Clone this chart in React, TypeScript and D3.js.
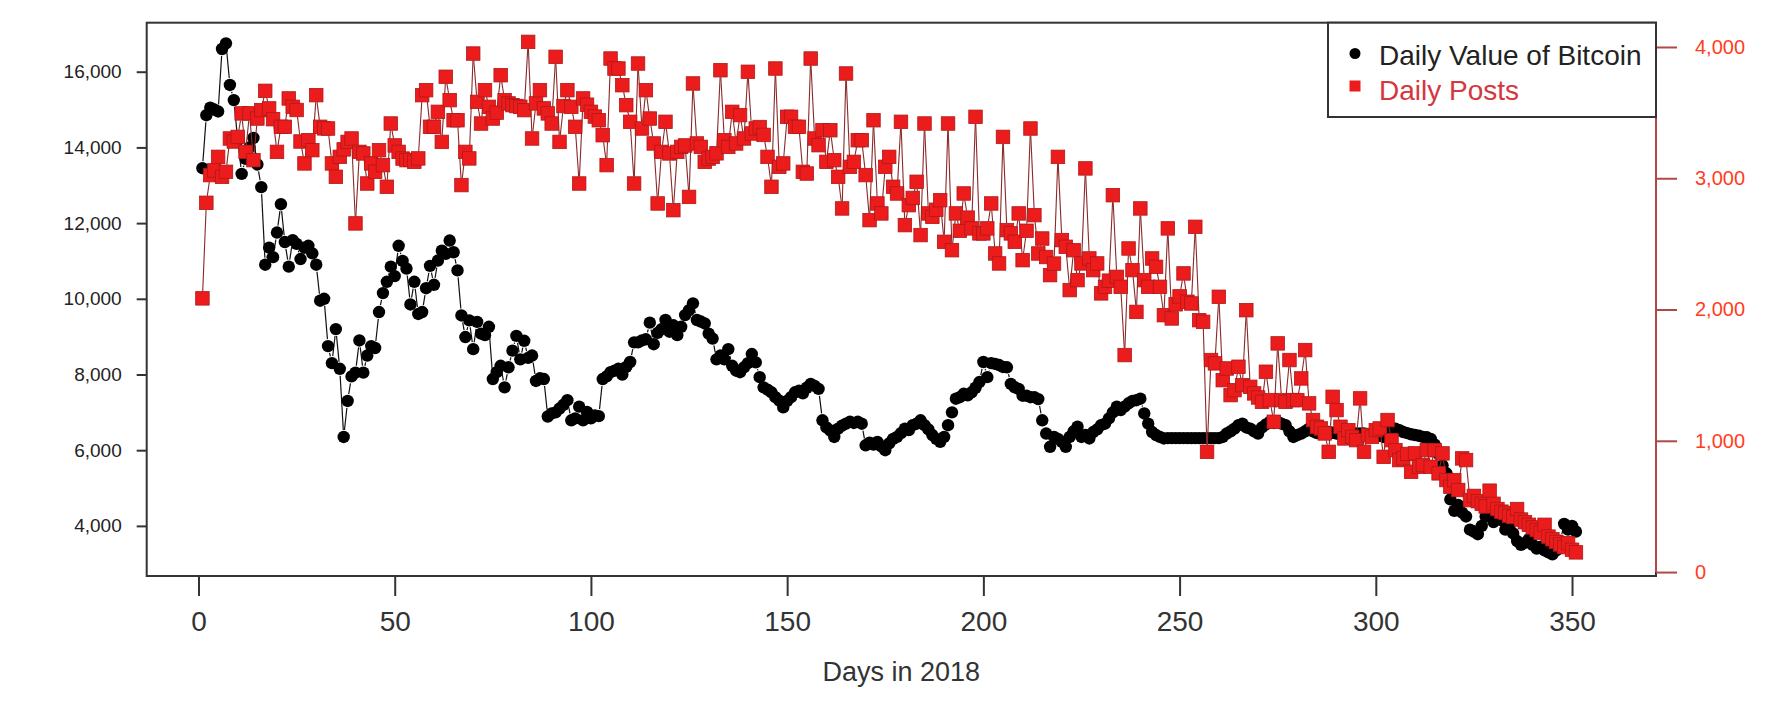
import { useEffect, useRef } from 'react';
import * as d3 from 'd3';

// Daily value of Bitcoin (USD), day 1..351
const btcValues = [
  13450, 14850, 15050, 15000, 14950, 16600, 16750, 15650, 15250, 14200,
  13300, 13700, 14000, 14250, 13550, 12950, 10900, 11350, 11100, 11750,
  12500, 11500, 10850, 11550, 11450, 11050, 11350, 11400, 11200, 10900,
  9950, 10000, 8750, 8300, 9200, 8150, 6350, 7300, 7950, 8050,
  8900, 8050, 8500, 8750, 8700, 9650, 10150, 10450, 10850, 10600,
  11400, 11000, 10800, 9850, 10450, 9600, 9650, 10280, 10870, 10370,
  11010, 11270, 11190, 11540, 11230, 10750, 9560, 8990, 9430, 8670,
  9390, 9080, 9040, 9260, 7880, 8060, 8230, 7660, 8190, 8630,
  9020, 8400, 8890, 8440, 8500, 7830, 7900, 7880, 6890, 6970,
  7000, 7100, 7200, 7320, 6790, 6840, 7150, 6790, 7010, 6840,
  6920, 6900, 7880, 7950, 8060, 8100, 8150, 8000, 8200, 8330,
  8850, 8850, 8900, 8930, 9370, 8800, 9100, 9200, 9440, 9130,
  9300, 9040, 9260, 9570, 9700, 9880, 9440, 9400, 9350, 9080,
  8950, 8400, 8500, 8400, 8670, 8230, 8100, 8060, 8190, 8300,
  8540, 8320, 7930, 7660, 7600, 7530, 7400, 7310, 7130, 7300,
  7400, 7530, 7570, 7500, 7650, 7750, 7700, 7620, 6790, 6600,
  6520, 6350, 6570, 6650, 6700, 6750, 6720, 6750, 6700, 6130,
  6200, 6150, 6220, 6100, 6000, 6180, 6300, 6350, 6450, 6570,
  6530, 6660, 6700, 6790, 6660, 6550, 6400, 6300, 6220, 6350,
  6660, 7000, 7360, 7400, 7490, 7450, 7530, 7650, 7800, 8330,
  7930, 8300, 8280, 8250, 8200, 8190, 7750, 7660, 7620, 7440,
  7440, 7400, 7400, 7350, 6790, 6440, 6090, 6350, 6300, 6220,
  6090, 6350, 6500, 6620, 6350, 6400, 6310, 6480, 6550, 6660,
  6700, 6840, 7000, 7150, 7060, 7150, 7240, 7300, 7320, 7360,
  6970, 6700, 6480, 6400, 6350, 6310, 6320, 6320, 6320, 6320,
  6320, 6320, 6320, 6320, 6320, 6320, 6320, 6320, 6320, 6320,
  6350, 6440, 6500, 6570, 6660, 6700, 6600, 6570, 6500, 6440,
  6600, 6680, 6750, 6720, 6750, 6700, 6660, 6500, 6350, 6400,
  6440, 6500, 6570, 6500, 6450, 6440, 6460, 6480, 6460, 6440,
  6420, 6400, 6420, 6440, 6440, 6440, 6440, 6430, 6410, 6400,
  6380, 6350, 6450, 6520, 6570, 6530, 6480, 6450, 6420, 6400,
  6380, 6350, 6340, 6300, 6150, 5900, 5600, 5390, 4700, 4400,
  4550, 4350, 4250, 3900, 3850, 3780, 4000, 4250, 4300, 4100,
  4200, 4150, 3900, 3950, 3800, 3600, 3500, 3550, 3650, 3500,
  3400, 3450, 3350, 3300, 3250, 3350, 3600, 4050, 3900, 4000,
  3850,
];

// Daily posts, day 1..351
const dailyPosts = [
  2085, 2813, 3024, 3060, 3163, 3011, 3049, 3303, 3280, 3315,
  3494, 3201, 3494, 3138, 3455, 3519, 3666, 3532, 3450, 3201,
  3392, 3392, 3608, 3544, 3520, 3280, 3113, 3290, 3214, 3633,
  3392, 3380, 3379, 3113, 3011, 3163, 3220, 3277, 3303, 2656,
  3201, 3189, 2960, 3113, 3049, 3214, 3100, 2935, 3417, 3250,
  3201, 3150, 3138, 3140, 3125, 3151, 3633, 3671, 3392, 3392,
  3506, 3277, 3773, 3595, 3442, 3442, 2948, 3201, 3151, 3950,
  3582, 3417, 3671, 3544, 3455, 3500, 3785, 3595, 3570, 3557,
  3550, 3544, 3519, 4039, 3303, 3570, 3671, 3532, 3494, 3417,
  3925, 3277, 3550, 3671, 3544, 3392, 2960, 3608, 3560, 3506,
  3470, 3442, 3328, 3100, 3912, 3836, 3836, 3709, 3557, 3430,
  2960, 3874, 3379, 3671, 3455, 3265, 2808, 3201, 3430, 3189,
  2757, 3201, 3239, 3250, 2858, 3722, 3265, 3239, 3125, 3150,
  3163, 3190, 3823, 3290, 3239, 3506, 3265, 3481, 3303, 3811,
  3341, 3379, 3390, 3330, 3163, 2935, 3836, 3087, 3113, 3468,
  3468, 3392, 3392, 3049, 3036, 3912, 3303, 3252, 3366, 3125,
  3366, 3138, 3011, 2770, 3798, 3087, 3125, 3290, 3290, 3024,
  2681, 3442, 2808, 2732, 3087, 3163, 2935, 2884, 3430, 2643,
  2795, 2850, 2973, 2567, 3417, 2732, 2706, 2760, 2833, 2516,
  3417, 2452, 2732, 2600, 2884, 2700, 2618, 3468, 2580, 2580,
  2618, 2808, 2427, 2351, 3315, 2605, 2580, 2516, 2732, 2376,
  2600, 3379, 2719, 2427, 2541, 2400, 2262, 2350, 3163, 2529,
  2478, 2148, 2452, 2224, 2351, 3075, 2389, 2300, 2351, 2123,
  2173, 2220, 2871, 2249, 2173, 1653, 2465, 2300, 1982, 2770,
  2224, 2173, 2389, 2325, 2173, 1957, 2618, 1932, 2040, 2100,
  2275, 2059, 2046, 2630, 1919, 1906, 916, 1615, 1590, 2097,
  1462, 1551, 1348, 1386, 1564, 1424, 1995, 1411, 1361, 1330,
  1297, 1526, 1310, 1145, 1742, 1310, 1297, 1615, 1310, 1310,
  1475, 1691, 1285, 1158, 1107, 1094, 1056, 916, 1335, 1234,
  1107, 1018, 1081, 1030, 1005, 1323, 916, 1043, 1030, 1081,
  1094, 878, 1158, 1005, 929, 853, 866, 900, 764, 904,
  802, 815, 929, 802, 929, 752, 904, 701, 650, 700,
  625, 866, 853, 548, 580, 540, 520, 500, 620, 520,
  480, 460, 450, 430, 420, 480, 400, 380, 360, 340,
  320, 300, 360, 270, 250, 230, 210, 190, 220, 170,
  150,
];

const xTicks = [0, 50, 100, 150, 200, 250, 300, 350];
const leftTicks = [4000, 6000, 8000, 10000, 12000, 14000, 16000];
const rightTicks = [0, 1000, 2000, 3000, 4000];

const FONT = '"Liberation Sans", Arial, Helvetica, sans-serif';

// segments of an R type="b" line: each one is cut back near the points
const gappedSegments = (pts: [number, number][], gap: number) => {
  const segs: [number, number, number, number][] = [];
  for (let i = 1; i < pts.length; i++) {
    const [x0, y0] = pts[i - 1];
    const [x1, y1] = pts[i];
    const dx = x1 - x0;
    const dy = y1 - y0;
    const len = Math.hypot(dx, dy);
    if (len <= gap * 2) continue;
    const ux = dx / len;
    const uy = dy / len;
    segs.push([x0 + ux * gap, y0 + uy * gap, x1 - ux * gap, y1 - uy * gap]);
  }
  return segs;
};

const App = () => {
  const svgRef = useRef<SVGSVGElement>(null);

  useEffect(() => {
    if (!svgRef.current) return;
    const svg = d3.select(svgRef.current);
    svg.selectAll('*').remove();

    const left = 146.7;
    const right = 1656;
    const top = 22.7;
    const bottom = 576;

    const x = d3.scaleLinear().domain([-13.2, 371.4]).range([left, right]);
    const yL = d3.scaleLinear().domain([2676, 17295]).range([bottom, top]);
    const yR = d3.scaleLinear().domain([-30, 4185]).range([bottom, top]);

    svg.append('rect')
      .attr('width', 1773)
      .attr('height', 714)
      .attr('fill', '#ffffff');

    // bitcoin: lines then dots
    const btcPts = btcValues.map((v, i) => [x(i + 1), yL(v)] as [number, number]);
    svg.append('g')
      .selectAll('line')
      .data(gappedSegments(btcPts, 7))
      .enter()
      .append('line')
      .attr('x1', d => d[0])
      .attr('y1', d => d[1])
      .attr('x2', d => d[2])
      .attr('y2', d => d[3])
      .attr('stroke', '#111')
      .attr('stroke-width', 1.2);

    svg.append('g')
      .selectAll('circle')
      .data(btcValues)
      .enter()
      .append('circle')
      .attr('cx', (d, i) => x(i + 1))
      .attr('cy', d => yL(d))
      .attr('r', 6.2)
      .attr('fill', '#000');

    // posts: lines then squares
    const postPts = dailyPosts.map((v, i) => [x(i + 1), yR(v)] as [number, number]);
    svg.append('g')
      .selectAll('line')
      .data(gappedSegments(postPts, 7))
      .enter()
      .append('line')
      .attr('x1', d => d[0])
      .attr('y1', d => d[1])
      .attr('x2', d => d[2])
      .attr('y2', d => d[3])
      .attr('stroke', '#8a2a2a')
      .attr('stroke-width', 1.1);

    const sq = 13.5;
    svg.append('g')
      .selectAll('rect')
      .data(dailyPosts)
      .enter()
      .append('rect')
      .attr('x', (d, i) => x(i + 1) - sq / 2)
      .attr('y', d => yR(d) - sq / 2)
      .attr('width', sq)
      .attr('height', sq)
      .attr('fill', '#ec1c1c')
      .attr('stroke', '#b01818')
      .attr('stroke-width', 0.8);

    // frame
    svg.append('rect')
      .attr('x', left)
      .attr('y', top)
      .attr('width', right - left)
      .attr('height', bottom - top)
      .attr('fill', 'none')
      .attr('stroke', '#333')
      .attr('stroke-width', 2);

    // left axis
    const gL = svg.append('g')
      .attr('transform', `translate(${left},0)`)
      .call(d3.axisLeft(yL).tickValues(leftTicks).tickSize(10).tickPadding(15).tickFormat(d3.format(',')));
    gL.select('.domain').remove();
    gL.selectAll('line').attr('stroke', '#333').attr('stroke-width', 2);
    gL.selectAll('text')
      .attr('font-family', FONT)
      .attr('font-size', 19)
      .attr('fill', '#222');

    // bottom axis
    const gB = svg.append('g')
      .attr('transform', `translate(0,${bottom})`)
      .call(d3.axisBottom(x).tickValues(xTicks).tickSize(20).tickPadding(15).tickFormat(d3.format('d')));
    gB.select('.domain').remove();
    gB.selectAll('line').attr('stroke', '#333').attr('stroke-width', 2);
    gB.selectAll('text')
      .attr('font-family', FONT)
      .attr('font-size', 28)
      .attr('fill', '#333');

    // right axis (posts)
    const gR = svg.append('g')
      .attr('transform', `translate(${right},0)`)
      .call(d3.axisRight(yR).tickValues(rightTicks).tickSize(21).tickPadding(18).tickFormat(d3.format(',')));
    gR.select('.domain').remove();
    gR.selectAll('line').attr('stroke', '#b04848').attr('stroke-width', 2);
    gR.selectAll('text')
      .attr('font-family', FONT)
      .attr('font-size', 20)
      .attr('fill', '#ff3d1f');
    svg.append('line')
      .attr('x1', right)
      .attr('x2', right)
      .attr('y1', yR(0))
      .attr('y2', yR(4000))
      .attr('stroke', '#b04848')
      .attr('stroke-width', 2);

    svg.append('text')
      .attr('x', (left + right) / 2)
      .attr('y', 681)
      .attr('text-anchor', 'middle')
      .attr('font-family', FONT)
      .attr('font-size', 27)
      .attr('fill', '#333')
      .text('Days in 2018');

    // legend
    const legend = svg.append('g');
    legend.append('rect')
      .attr('x', 1328)
      .attr('y', top)
      .attr('width', right - 1328)
      .attr('height', 117 - top)
      .attr('fill', '#fff')
      .attr('stroke', '#333')
      .attr('stroke-width', 2);
    legend.append('circle')
      .attr('cx', 1355)
      .attr('cy', 53.5)
      .attr('r', 5.5)
      .attr('fill', '#000');
    legend.append('text')
      .attr('x', 1379)
      .attr('y', 65)
      .attr('font-family', FONT)
      .attr('font-size', 28)
      .attr('fill', '#222')
      .text('Daily Value of Bitcoin');
    legend.append('rect')
      .attr('x', 1355 - 5.5)
      .attr('y', 86 - 5.5)
      .attr('width', 11)
      .attr('height', 11)
      .attr('fill', '#ec1c1c');
    legend.append('text')
      .attr('x', 1379)
      .attr('y', 99.5)
      .attr('font-family', FONT)
      .attr('font-size', 28)
      .attr('fill', '#d4373d')
      .text('Daily Posts');
  }, []);

  return (
    <div style={{ position: 'absolute', left: 0, top: 0 }}>
      <svg ref={svgRef} width={1773} height={714} viewBox="0 0 1773 714" />
    </div>
  );
};

export default App;
